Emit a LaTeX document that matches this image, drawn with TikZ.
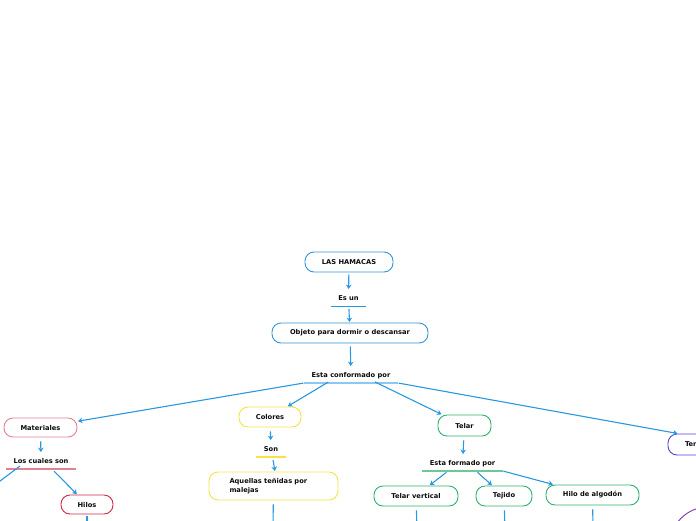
\documentclass[tikz,border=0pt]{standalone}
\usepackage{fontspec}
\setmainfont{DejaVu Sans}
\usepackage{xcolor}
\usepackage{tikz}
\usetikzlibrary{arrows.meta,positioning}
\definecolor{hmBlue}{RGB}{41,152,222}
\definecolor{hmBlueBox}{RGB}{52,150,215}
\definecolor{hmBlueLight}{RGB}{140,200,240}
\definecolor{hmPink}{RGB}{228,128,148}
\definecolor{hmCrimson}{RGB}{208,40,72}
\definecolor{hmYellow}{RGB}{245,226,70}
\definecolor{hmGreen}{RGB}{44,178,108}
\definecolor{hmGreenLight}{RGB}{110,200,150}
\definecolor{hmPurple}{RGB}{88,62,218}
\definecolor{hmViolet}{RGB}{128,52,182}
\definecolor{hmText}{RGB}{12,12,12}

\begin{document}
\begin{tikzpicture}[x=1pt,y=-1pt,
    every node/.style={font=\fontsize{6.7pt}{9pt}\selectfont\bfseries, text=hmText},
    topic/.style={draw, rounded corners=9pt, line width=0.9pt, minimum height=20pt, inner sep=0pt, align=center},
    joiner/.style={anchor=south, inner xsep=7.5pt, inner ysep=4pt, text height=5pt, text depth=1.5pt},
    link/.style={draw=hmBlue, line width=1.1pt, -{Stealth[length=4.5pt,width=5.5pt]}, shorten <=2pt, shorten >=2pt}]
    \useasboundingbox (0,0) rectangle (696,520);
    \clip (0,0) rectangle (696,520);

    % main trunk
    \node[topic, draw=hmBlueBox, minimum width=88pt] (hamacas) at (349,262) {LAS HAMACAS};
    \node[joiner] (esun) at (348.5,306) {Es un};
    \draw[hmBlue, line width=1pt] (esun.south west) -- (esun.south east);
    \node[topic, draw=hmBlueBox, minimum width=156pt] (objeto) at (350,333) {Objeto para dormir o descansar};
    \node[joiner] (conf) at (351,383) {Esta conformado por};
    \draw[hmBlueLight, line width=1.2pt] (conf.south west) -- (conf.south east);
    \draw[link] (hamacas) -- (esun);
    \draw[link, shorten <=3pt, shorten >=0.5pt] (esun) -- (objeto);
    \draw[link, shorten <=3pt] (objeto) -- (conf);

    % materiales
    \node[topic, draw=hmPink, minimum width=73pt, minimum height=19pt] (mat) at (40.5,427.5) {Materiales};
    \node[joiner] (cual) at (41,469) {Los cuales son};
    \draw[hmPink, line width=1.2pt] (cual.south west) -- (cual.south east);
    \node[topic, draw=hmCrimson, minimum width=52pt, minimum height=19pt] (hilos) at (87,504.5) {Hilos};
    \coordinate (offleft) at (-20,496);
    \coordinate (hilosend) at (87,530);
    \draw[link, shorten <=0.5pt, shorten >=0.5pt] (conf.south west) -- (mat);
    \draw[link, shorten <=4pt] (mat) -- (cual);
    \draw[hmBlue, line width=1.1pt] ([xshift=-21pt,yshift=3pt]cual.south) -- (offleft);
    \draw[link, shorten <=3pt, shorten >=0.5pt] ([xshift=11pt]cual.south) -- (hilos);
    \draw[link] (hilos) -- (hilosend);

    % colores
    \node[topic, draw=hmYellow, minimum width=62pt] (colores) at (270,417) {Colores};
    \node[joiner] (son) at (271,457) {Son};
    \draw[hmYellow, line width=1.2pt] (son.south west) -- (son.south east);
    \node[topic, draw=hmYellow, minimum width=129pt, minimum height=28pt, text width=88pt, align=left, inner xsep=20.5pt] (aquellas) at (273.5,486) {Aquellas teñidas por\\malejas};
    \coordinate (aquellasend) at (273,530);
    \draw[link, shorten <=2pt, shorten >=0.5pt] ([xshift=-21pt,yshift=2pt]conf.south) -- (colores);
    \draw[link, shorten <=4pt] (colores) -- (son);
    \draw[link, shorten <=3pt, shorten >=0.5pt] ([xshift=1.5pt]son.south) -- ([xshift=1.5pt]aquellas.north);
    \draw[link, shorten <=4pt] (aquellas) -- (aquellasend);

    % telar
    \node[topic, draw=hmGreen, minimum width=53pt, minimum height=21pt] (telar) at (464.5,425.5) {Telar};
    \node[joiner] (fmd) at (462.5,471) {Esta formado por};
    \draw[hmGreenLight, line width=1.2pt] (fmd.south west) -- (fmd.south east);
    \node[topic, draw=hmGreen, minimum width=84pt] (tvert) at (416,496) {Telar vertical};
    \node[topic, draw=hmGreen, minimum width=56pt] (tejido) at (504,496) {Tejido};
    \node[topic, draw=hmGreen, minimum width=93pt] (hilo) at (592.5,495) {Hilo de algodón};
    \coordinate (tvertend) at (417,530);
    \coordinate (tejidoend) at (505,530);
    \coordinate (hiloend) at (593,530);
    \draw[link, shorten <=2pt, shorten >=0.5pt] ([xshift=22pt,yshift=2pt]conf.south) -- (telar);
    \draw[link, shorten <=4pt] (telar) -- (fmd);
    \draw[link, shorten <=2pt, shorten >=0.5pt] ([xshift=-14.5pt]fmd.south) -- (tvert);
    \draw[link, shorten <=2pt, shorten >=0.5pt] ([xshift=13.5pt]fmd.south) -- (tejido);
    \draw[link, shorten <=0.5pt, shorten >=0.5pt] (fmd.south east) -- (hilo);
    \draw[link, shorten <=4pt] (tvert) -- (tvertend);
    \draw[link, shorten <=4pt] (tejido) -- (tejidoend);
    \draw[link, shorten <=4pt] (hilo) -- (hiloend);

    % right side
    \node[topic, draw=hmPurple, minimum width=70pt, minimum height=21pt, text width=36pt, align=left, inner xsep=17pt] (ter) at (703,444.5) {Ter};
    \node[draw=hmViolet, line width=0.9pt, circle, minimum size=76pt] (ronda) at (708,545) {};
    \draw[link, shorten <=0.5pt, shorten >=0.5pt] (conf.south east) -- ([xshift=-25pt]ter.north);
\end{tikzpicture}
\end{document}
